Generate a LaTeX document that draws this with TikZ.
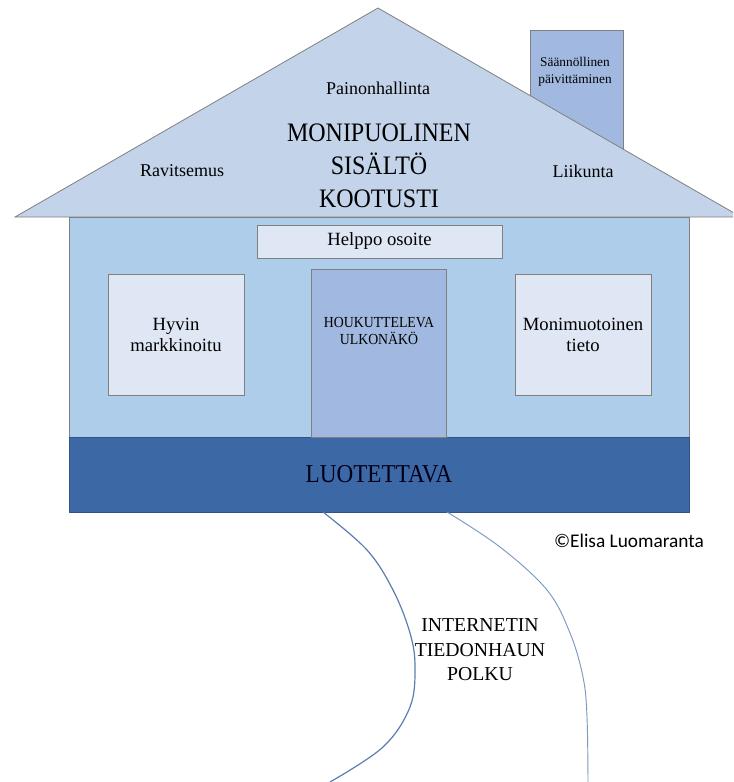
\documentclass[tikz,border=0pt]{standalone}
\usepackage{fontspec}
\setmainfont{Liberation Serif}
\newfontfamily\capsfont[FakeStretch=0.9]{Liberation Serif}
\newfontfamily\calibri{Carlito}
\definecolor{rooffill}{HTML}{C3D3EA}
\definecolor{wallfill}{HTML}{ADCDEA}
\definecolor{panelfill}{HTML}{DFE7F4}
\definecolor{doorfill}{HTML}{A1B9E0}
\definecolor{basefill}{HTML}{3D68A6}
\definecolor{pathline}{HTML}{5A7EB0}
\def\u{0.75pt}

\begin{document}
\begin{tikzpicture}[x=0.75pt, y=-0.75pt,
  edge/.style={draw=black!50, line width=0.6pt},
  panel/.style={edge, fill=panelfill, inner sep=0pt, align=center, font=\fontsize{14}{15.75}\selectfont},
  small/.style={align=center, font=\fontsize{13.5}{16}\selectfont}]
\useasboundingbox (0,0) rectangle (733,782);
\clip (0,0) rectangle (733,782);

% chimney behind the roof
\node[edge, fill=doorfill, minimum width=93*\u, minimum height=120*\u, inner sep=0pt] (chimney) at (576.5,90) {};
\node[align=center, font=\fontsize{10}{12.5}\selectfont] (update) at (575,72) {Säännöllinen\\päivittäminen};

% roof
\draw[edge, fill=rooffill] (378,8) -- (741,217) -- (15,217) -- cycle;
\node[small] (weight) at (378,88) {Painonhallinta};
\node[small] (food) at (182,171) {Ravitsemus};
\node[small] (sport) at (583,171) {Liikunta};
\node[align=center, font=\capsfont\fontsize{20}{24.75}\selectfont] (content) at (379,166) {MONIPUOLINEN\\SISÄLTÖ\\KOOTUSTI};

% walls and base
\node[edge, fill=wallfill, minimum width=620*\u, minimum height=220*\u, inner sep=0pt] (wall) at (379,327) {};
\node[draw=basefill!80!black, fill=basefill, minimum width=620*\u, minimum height=75*\u, inner sep=0pt,
  font=\capsfont\fontsize{19.3}{20}\selectfont, text=black!90!blue] (base) at (379,474.5) {LUOTETTAVA};

% windows and door
\node[panel, minimum width=245*\u, minimum height=33*\u] (address) at (379.5,241.5) {Helppo osoite};
\node[panel, minimum width=136*\u, minimum height=121*\u] (market) at (176,334.5) {Hyvin\\markkinoitu};
\node[panel, minimum width=136*\u, minimum height=121*\u] (info) at (583,334.5) {Monimuotoinen\\tieto};
\node[edge, fill=doorfill, minimum width=135*\u, minimum height=168*\u, inner sep=0pt] (door) at (378.5,353) {};
\node[align=center, font=\capsfont\fontsize{11.5}{12.5}\selectfont] (looks) at (379,331) {HOUKUTTELEVA\\ULKONÄKÖ};

\node[font=\calibri\fontsize{14.5}{16}\selectfont] (author) at (629,541) {©Elisa Luomaranta};

% the path leading to the house
\coordinate (pathL) at (323,512);
\coordinate (pathR) at (447,512);
\draw[pathline, line width=0.9pt] plot[smooth, tension=0.6] coordinates {(pathL) (367,550) (393,590) (410,633) (415,667) (410,707) (383,747) (330,782)};
\draw[pathline!80, line width=0.7pt] plot[smooth, tension=0.6] coordinates {(pathR) (500,547) (547,590) (570,633) (583,677) (587,717) (588,782)};
\node[align=center, font=\fontsize{14.8}{18.4}\selectfont] (search) at (480,650) {INTERNETIN\\TIEDONHAUN\\POLKU};

\end{tikzpicture}
\end{document}
